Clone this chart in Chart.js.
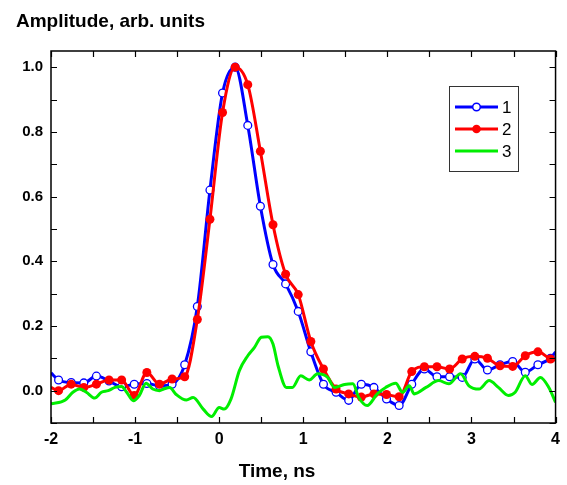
<!DOCTYPE html>
<html>
<head>
<meta charset="utf-8">
<script src="https://cdn.jsdelivr.net/npm/chart.js@4/dist/chart.umd.min.js"></script>
<style>
  html, body { margin: 0; padding: 0; background: #fff; }
  #wrap { width: 567px; height: 485px; position: relative; }
</style>
</head>
<body>
<div id="wrap"><canvas id="pulseChart"></canvas></div>
<script>
// Sample times (ns) of curves 1 and 2, first and last entries are the line ends
const pulseX = [-2, -1.91, -1.76, -1.61, -1.46, -1.31, -1.16, -1.01, -0.86, -0.71, -0.56,
    -0.41, -0.26, -0.11, 0.04, 0.19, 0.34, 0.49, 0.64, 0.79, 0.94,
    1.09, 1.24, 1.39, 1.54, 1.69, 1.84, 1.99, 2.14, 2.29, 2.44,
    2.59, 2.74, 2.89, 3.04, 3.19, 3.34, 3.49, 3.64, 3.79, 3.94, 4];

const curve1 = [0.055, 0.033, 0.025, 0.024, 0.045, 0.030, 0.012, 0.020, 0.022, 0.015, 0.020,
    0.080, 0.26, 0.62, 0.92, 1.0, 0.82, 0.57, 0.39, 0.33, 0.245,
    0.12, 0.02, -0.005, -0.03, 0.02, 0.01, -0.026, -0.046, 0.02, 0.067,
    0.043, 0.043, 0.041, 0.098, 0.064, 0.08, 0.09, 0.057, 0.08, 0.10, 0.12];

const curve2 = [0.01, 0.0, 0.02, 0.01, 0.02, 0.033, 0.033, -0.015, 0.056, 0.02, 0.036,
    0.043, 0.22, 0.53, 0.86, 1.0, 0.946, 0.74, 0.513, 0.36, 0.297,
    0.152, 0.067, 0.005, -0.01, -0.02, -0.01, -0.012, -0.019, 0.059, 0.074,
    0.074, 0.067, 0.098, 0.106, 0.10, 0.077, 0.075, 0.108, 0.12, 0.098, 0.095];

// Curve 3 (no markers)
const curve3X = [-2.0, -1.83, -1.74, -1.66, -1.58, -1.48, -1.40, -1.32, -1.24, -1.16,
    -1.10, -1.02, -0.95, -0.87, -0.79, -0.71, -0.66, -0.59, -0.51, -0.39,
    -0.31, -0.19, -0.09, 0.0, 0.06, 0.14, 0.24, 0.34, 0.42, 0.50,
    0.58, 0.64, 0.70, 0.80, 0.87, 0.97, 1.07, 1.17, 1.29, 1.37,
    1.49, 1.59, 1.66, 1.76, 1.88, 1.98, 2.10, 2.18, 2.26, 2.32,
    2.46, 2.61, 2.73, 2.87, 2.97, 3.09, 3.21, 3.32, 3.44, 3.52,
    3.64, 3.72, 3.82, 3.92, 4.0];
const curve3 = [-0.041, -0.029, -0.005, 0.005, -0.005, -0.023, -0.005, 0.0, 0.01, 0.013,
    -0.005, -0.031, -0.015, 0.023, 0.005, 0.0, 0.005, 0.01, -0.012, -0.029,
    -0.021, -0.057, -0.08, -0.052, -0.057, -0.026, 0.062, 0.108, 0.134, 0.165,
    0.167, 0.144, 0.077, 0.01, 0.01, 0.046, 0.033, 0.052, 0.041, 0.01,
    0.019, 0.021, -0.021, -0.046, -0.01, 0.01, 0.023, -0.005, 0.015, -0.01,
    0.01, 0.031, 0.021, 0.052, 0.015, 0.005, 0.031, 0.01, -0.015, -0.005,
    0.046, 0.019, 0.041, 0.01, -0.036];

const xTicks = [-2, -1, 0, 1, 2, 3, 4];
const yTicks = [0.0, 0.2, 0.4, 0.6, 0.8, 1.0];
const legendLabels = ['1', '2', '3'];

const BLUE = '#0000ff';
const RED = '#ff0000';
const GREEN = '#00ee00';
const FONT = '"Liberation Sans", Arial, sans-serif';

function toPoints(xs, ys) {
    return xs.map((x, i) => ({ x: x, y: ys[i] }));
}

// no marker on the two line ends
function markerRadius(r) {
    return ctx => (ctx.dataIndex === 0 || ctx.dataIndex === pulseX.length - 1) ? 0 : r;
}

// Frame, inward ticks, titles and legend
const framePlugin = {
    id: 'frame',
    afterDraw(chart) {
        const ctx = chart.ctx;
        const area = chart.chartArea;
        const xs = chart.scales.x;
        const ys = chart.scales.y;
        ctx.save();
        ctx.strokeStyle = '#000';
        ctx.lineWidth = 1.5;
        ctx.strokeRect(area.left, area.top, area.right - area.left, area.bottom - area.top);

        ctx.lineWidth = 1.2;
        ctx.beginPath();
        for (let v = -2; v <= 4.001; v += 0.5) {
            const px = Math.round(xs.getPixelForValue(v)) + 0.5;
            ctx.moveTo(px, area.bottom); ctx.lineTo(px, area.bottom - 6);
            ctx.moveTo(px, area.top); ctx.lineTo(px, area.top + 6);
        }
        for (let v = -0.1; v <= 1.001; v += 0.1) {
            const py = Math.round(ys.getPixelForValue(v)) + 0.5;
            ctx.moveTo(area.left, py); ctx.lineTo(area.left + 6, py);
            ctx.moveTo(area.right, py); ctx.lineTo(area.right - 6, py);
        }
        ctx.stroke();

        // titles
        ctx.fillStyle = '#000';
        ctx.font = 'bold 19px ' + FONT;
        ctx.textBaseline = 'alphabetic';
        ctx.textAlign = 'left';
        ctx.fillText('Amplitude, arb. units', 16, 27);
        ctx.textAlign = 'center';
        ctx.fillText('Time, ns', 277, 477);

        // legend
        const lx = 449, ly = 86, lw = 69, lh = 85;
        ctx.fillStyle = '#fff';
        ctx.fillRect(lx, ly, lw, lh);
        ctx.strokeStyle = '#333';
        ctx.lineWidth = 1;
        ctx.strokeRect(lx + 0.5, ly + 0.5, lw, lh);
        const rows = [107, 129, 151];
        const cols = [BLUE, RED, GREEN];
        ctx.font = '17px ' + FONT;
        ctx.textAlign = 'left';
        ctx.textBaseline = 'middle';
        rows.forEach((ry, i) => {
            ctx.strokeStyle = cols[i];
            ctx.lineWidth = 3;
            ctx.beginPath();
            ctx.moveTo(455, ry); ctx.lineTo(498, ry);
            ctx.stroke();
            if (i === 0) {
                ctx.beginPath();
                ctx.arc(476.5, ry, 3.8, 0, Math.PI * 2);
                ctx.fillStyle = '#fff';
                ctx.fill();
                ctx.lineWidth = 1.5;
                ctx.stroke();
            } else if (i === 1) {
                ctx.beginPath();
                ctx.arc(476.5, ry, 4.3, 0, Math.PI * 2);
                ctx.fillStyle = RED;
                ctx.fill();
            }
            ctx.fillStyle = '#000';
            ctx.fillText(legendLabels[i], 502, ry + 1);
        });
        ctx.restore();
    }
};

const chart = new Chart(document.getElementById('pulseChart').getContext('2d'), {
    type: 'scatter',
    data: {
        datasets: [
            {
                label: '3',
                data: toPoints(curve3X, curve3),
                showLine: true,
                borderColor: GREEN,
                borderWidth: 3,
                pointRadius: 0,
                cubicInterpolationMode: 'monotone'
            },
            {
                label: '2',
                data: toPoints(pulseX, curve2),
                showLine: true,
                borderColor: RED,
                backgroundColor: RED,
                borderWidth: 3,
                pointRadius: markerRadius(4.5),
                pointBorderWidth: 0,
                cubicInterpolationMode: 'monotone'
            },
            {
                label: '1',
                data: toPoints(pulseX, curve1),
                showLine: true,
                borderColor: BLUE,
                backgroundColor: '#fff',
                pointBorderColor: BLUE,
                borderWidth: 3,
                pointRadius: markerRadius(3.9),
                pointBorderWidth: 1.3,
                cubicInterpolationMode: 'monotone'
            }
        ]
    },
    options: {
        responsive: true,
        maintainAspectRatio: false,
        animation: false,
        layout: {
            padding: { left: 0, right: 10, top: 51, bottom: 0 }
        },
        plugins: {
            legend: { display: false },
            tooltip: { enabled: false }
        },
        scales: {
            x: {
                type: 'linear',
                min: -2,
                max: 4,
                afterBuildTicks: scale => { scale.ticks = xTicks.map(v => ({ value: v })); },
                afterFit: scale => { scale.height = 62; },
                grid: { display: false, drawTicks: false },
                border: { display: false },
                ticks: {
                    padding: 7,
                    color: '#000',
                    font: { family: FONT, size: 16, weight: 'bold' },
                    maxRotation: 0,
                    callback: v => String(v)
                }
            },
            y: {
                min: -0.1,
                max: 1.05,
                afterBuildTicks: scale => { scale.ticks = yTicks.map(v => ({ value: v })); },
                afterFit: scale => { scale.width = 51; },
                grid: { display: false, drawTicks: false },
                border: { display: false },
                ticks: {
                    padding: 8,
                    color: '#000',
                    font: { family: FONT, size: 15, weight: 'bold' },
                    callback: v => v.toFixed(1)
                }
            }
        }
    },
    plugins: [framePlugin]
});
</script>
</body>
</html>
